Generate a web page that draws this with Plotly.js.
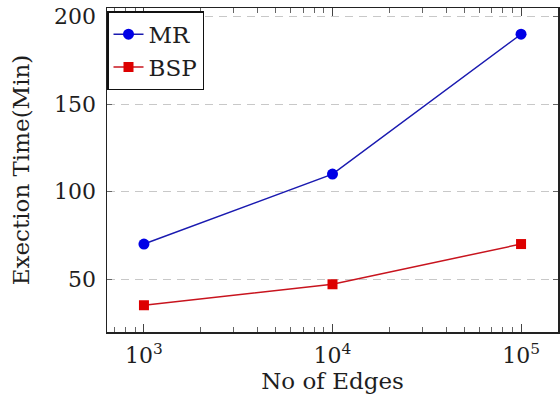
<!DOCTYPE html>
<html>
<head>
<meta charset="utf-8">
<script src="https://cdn.plot.ly/plotly-3.0.1.min.js"></script>
<style>html,body{margin:0;padding:0;background:#fff;}#chart{width:560px;height:401px;}</style>
</head>
<body>
<div id="chart"></div>
<script>
const edges = [1000, 10000, 100000];
const mrTimes = [70, 110, 190];
const bspTimes = [35, 47, 70];
const xTickVals = [1000, 10000, 100000];
const xTickText = ["10<sup>3</sup>", "10<sup>4</sup>", "10<sup>5</sup>"];
const yTickVals = [50, 100, 150, 200];

const minorVals = [];
[100, 1000, 10000, 100000].forEach(function (d) {
  for (let k = 2; k <= 9; k++) minorVals.push(k * d);
});

const fam = "DejaVu Serif";
const txt = "#1e1e1e";

const traces = [
  {x: edges, y: mrTimes, name: "MR", mode: "lines+markers",
   line: {color: "#1a1ab0", width: 1.5}, marker: {color: "#0000e6", symbol: "circle", size: 11}},
  {x: edges, y: bspTimes, name: "BSP", mode: "lines+markers",
   line: {color: "#c8141e", width: 1.5}, marker: {color: "#dd0000", symbol: "square", size: 10}}
];

const layout = {
  width: 560, height: 401,
  margin: {l: 107, r: 2, t: 8, b: 69},
  paper_bgcolor: "#fff", plot_bgcolor: "#fff",
  font: {family: fam, size: 22, color: txt},
  showlegend: true,
  legend: {x: 0, y: 0.99, xanchor: "left", yanchor: "top", bordercolor: "#111", borderwidth: 1.5,
           bgcolor: "#fff", font: {family: fam, size: 23, color: txt}, tracegroupgap: 0,
           itemwidth: 30},
  xaxis: {
    type: "log", range: [2.804, 5.196],
    tickmode: "array", tickvals: xTickVals, ticktext: xTickText,
    tickfont: {family: fam, size: 22, color: txt},
    ticks: "inside", ticklen: 8, tickcolor: "#444", mirror: "ticks",
    ticklabelstandoff: 3,
    showline: true, linecolor: "#222", linewidth: 1.5,
    showgrid: false, zeroline: false,
    minor: {tickmode: "array", tickvals: minorVals, ticks: "inside", ticklen: 5, tickcolor: "#666", showgrid: false},
    title: {text: "No of Edges", font: {family: fam, size: 23, color: txt}, standoff: 6}
  },
  yaxis: {
    range: [19.7, 205],
    tickmode: "array", tickvals: yTickVals,
    tickfont: {family: fam, size: 22, color: txt},
    ticks: "inside", ticklen: 5, tickcolor: "#666", mirror: "ticks",
    ticklabelstandoff: 5,
    showline: true, linecolor: "#222", linewidth: 1.5,
    showgrid: true, gridcolor: "#c8c8c8", griddash: "8px,6px", gridwidth: 1,
    zeroline: false,
    title: {text: "Exection Time(Min)", font: {family: fam, size: 23, color: txt}, standoff: 18}
  }
};

Plotly.newPlot("chart", traces, layout, {displayModeBar: false, staticPlot: true});
</script>
</body>
</html>
